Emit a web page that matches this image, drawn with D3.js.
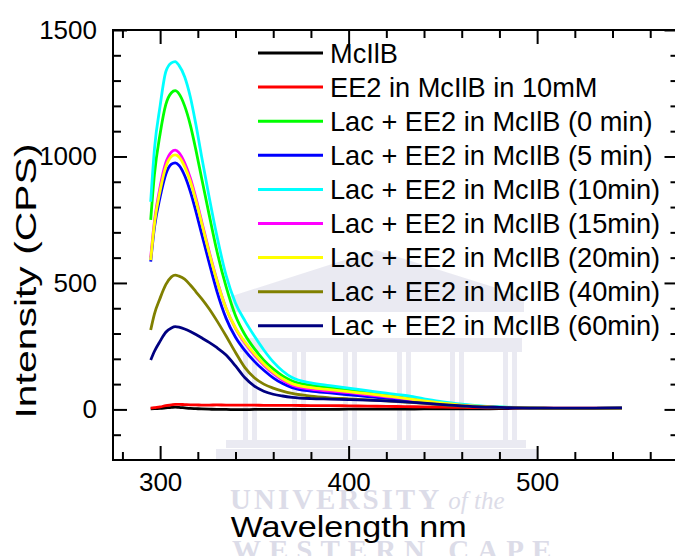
<!DOCTYPE html>
<html>
<head>
<meta charset="utf-8">
<script src="https://cdn.jsdelivr.net/npm/d3@7"></script>
<style>
  body { margin: 0; background: #fff; }
  svg { display: block; font-family: "Liberation Sans", Arial, sans-serif; }
</style>
</head>
<body>
<svg id="chart" width="675" height="556"></svg>
<script>
// wavelength (nm) shared by every spectrum
const wavelength = [295, 297, 300, 303, 306, 308, 310, 313, 316, 319, 322, 326, 330, 335, 340, 345, 350, 355, 360, 365, 370, 380, 390, 400, 410, 420, 430, 440, 450, 460, 470, 480, 490, 500, 510, 520, 530, 545];

// intensity (CPS) for each sample
const mcilb  = [2, 3, 4, 6, 8, 9, 8, 6, 4, 3, 2, 1, 0, 0, -1, -1, 0, 0, 0, 0, 0, 0, 0, 1, 1, 1, 1, 2, 2, 2, 2, 3, 3, 3, 3, 3, 4, 4];
const ee2    = [5, 7, 10, 15, 18, 20, 20, 19, 18, 18, 17, 17, 18, 17, 17, 17, 17, 16, 16, 16, 16, 15, 15, 14, 13, 12, 11, 10, 9, 8, 7, 6, 6, 5, 5, 5, 5, 5];
const lac0   = [749, 930, 1090, 1205, 1252, 1260, 1248, 1200, 1125, 1025, 915, 770, 630, 485, 370, 295, 240, 195, 160, 132, 112, 95, 86, 76, 66, 56, 46, 35, 25, 17, 12, 9, 7, 5, 4, 4, 4, 5];
const lac5   = [584, 720, 840, 930, 970, 975, 965, 925, 862, 782, 695, 580, 470, 360, 285, 232, 190, 155, 125, 102, 86, 72, 65, 58, 51, 44, 36, 28, 20, 14, 10, 7, 6, 5, 4, 4, 4, 5];
const lac10  = [821, 1030, 1200, 1335, 1370, 1375, 1360, 1315, 1236, 1125, 1000, 840, 690, 530, 420, 350, 290, 235, 188, 152, 126, 105, 94, 84, 74, 64, 55, 42, 30, 21, 14, 10, 7, 5, 4, 4, 4, 5];
const lac15  = [600, 745, 880, 975, 1018, 1025, 1015, 975, 915, 835, 745, 625, 515, 400, 320, 262, 215, 175, 142, 115, 96, 80, 72, 66, 58, 50, 42, 32, 23, 16, 11, 8, 6, 5, 4, 4, 4, 5];
const lac20  = [590, 735, 865, 958, 1000, 1006, 998, 960, 902, 825, 738, 620, 512, 400, 322, 266, 220, 180, 147, 121, 102, 86, 78, 70, 62, 53, 44, 34, 25, 17, 12, 8, 6, 5, 4, 4, 4, 5];
const lac40  = [314, 378, 440, 493, 524, 531, 527, 515, 492, 465, 438, 398, 352, 290, 225, 165, 125, 100, 84, 72, 63, 52, 46, 42, 38, 34, 29, 24, 18, 13, 10, 8, 6, 5, 4, 4, 4, 5];
const lac60  = [195, 230, 270, 305, 322, 327, 325, 318, 308, 296, 283, 265, 245, 215, 172, 125, 92, 72, 60, 53, 48, 43, 41, 39, 37, 34, 30, 25, 19, 14, 10, 8, 6, 5, 5, 5, 5, 6];

const seriesNames = ["McIlB", "EE2 in McIlB in 10mM", "Lac + EE2 in McIlB (0 min)", "Lac + EE2 in McIlB (5 min)",
  "Lac + EE2 in McIlB (10min)", "Lac + EE2 in McIlB (15min)", "Lac + EE2 in McIlB (20min)",
  "Lac + EE2 in McIlB (40min)", "Lac + EE2 in McIlB (60min)"];
const seriesValues = [mcilb, ee2, lac0, lac5, lac10, lac15, lac20, lac40, lac60];
const seriesColors = ["#000000", "#ff0000", "#00ff00", "#0000ff", "#00ffff", "#ff00ff", "#ffff00", "#808000", "#000080"];

const xMajor = [300, 400, 500];
const yMajor = [0, 500, 1000, 1500];

const svg = d3.select("#chart");
const mLeft = 113, mTop = 30, mRight = 678.5, mBottom = 460;

const x = d3.scaleLinear().domain([275, 575]).range([mLeft, mRight]);
const y = d3.scaleLinear().domain([-200, 1500]).range([mBottom, mTop]);

// faint university watermark behind the plot
const wm = svg.append("g").attr("fill", "#e6e6f0").attr("opacity", 0.8);
wm.append("polygon").attr("points", "232,296 376,250 522,296");
wm.append("rect").attr("x", 230).attr("y", 296).attr("width", 294).attr("height", 16);
wm.append("rect").attr("x", 240).attr("y", 338).attr("width", 282).attr("height", 14);
[243, 292, 343, 397, 450, 503].forEach(cx => {
  wm.append("rect").attr("x", cx).attr("y", 352).attr("width", 5).attr("height", 88);
  wm.append("rect").attr("x", cx + 9).attr("y", 352).attr("width", 5).attr("height", 88);
});
wm.append("rect").attr("x", 226).attr("y", 440).attr("width", 300).attr("height", 8);
wm.append("rect").attr("x", 216).attr("y", 449).attr("width", 322).attr("height", 10);
svg.append("text").attr("x", 230).attr("y", 509)
  .attr("font-family", "'Liberation Serif', 'DejaVu Serif', serif").attr("font-weight", "bold")
  .attr("font-size", 29).attr("letter-spacing", 3).attr("fill", "#dcdce8")
  .text("UNIVERSITY").append("tspan").attr("font-style", "italic").attr("font-weight", "normal")
  .attr("font-size", 25).attr("letter-spacing", 0).text(" of the");
svg.append("text").attr("x", 232).attr("y", 560)
  .attr("font-family", "'Liberation Serif', 'DejaVu Serif', serif").attr("font-weight", "bold")
  .attr("font-size", 29).attr("letter-spacing", 8).attr("fill", "#dcdce8")
  .text("WESTERN CAPE");

// spectra
const line = d3.line()
  .x((d, i) => x(wavelength[i]))
  .y(d => y(d))
  .curve(d3.curveMonotoneX);

svg.append("g").selectAll("path")
  .data(seriesValues)
  .enter()
  .append("path")
  .attr("d", d => line(d))
  .attr("fill", "none")
  .attr("stroke", (d, i) => seriesColors[i])
  .attr("stroke-width", 2.8)
  .attr("stroke-linejoin", "round");

// axes: ticks point inward on all four sides
const xMinor = d3.range(280, 575, 20).filter(v => !xMajor.includes(v));
const yMinor = d3.range(-100, 1500, 100).filter(v => !yMajor.includes(v));

function tickGroup(axis, tx, ty) {
  const g = svg.append("g").attr("transform", `translate(${tx},${ty})`).call(axis);
  g.select(".domain").remove();
  g.selectAll("line").attr("stroke", "#000").attr("stroke-width", 2);
  g.selectAll("text").attr("font-size", 26).attr("fill", "#000")
    .attr("font-family", "'Liberation Sans', Arial, sans-serif");
  return g;
}

tickGroup(d3.axisBottom(x).tickValues(xMajor).tickSize(-14).tickPadding(13).tickFormat(d3.format("d")), 0, mBottom);
tickGroup(d3.axisBottom(x).tickValues(xMinor).tickSize(-8).tickFormat(""), 0, mBottom);
tickGroup(d3.axisTop(x).tickValues(xMajor).tickSize(-14).tickFormat(""), 0, mTop);
tickGroup(d3.axisTop(x).tickValues(xMinor).tickSize(-8).tickFormat(""), 0, mTop);
tickGroup(d3.axisLeft(y).tickValues(yMajor).tickSize(-14).tickPadding(16).tickFormat(d3.format("d")), mLeft, 0);
tickGroup(d3.axisLeft(y).tickValues(yMinor).tickSize(-8).tickFormat(""), mLeft, 0);
tickGroup(d3.axisRight(y).tickValues(yMajor).tickSize(-14).tickFormat(""), mRight, 0);
tickGroup(d3.axisRight(y).tickValues(yMinor).tickSize(-8).tickFormat(""), mRight, 0);

// frame
svg.append("rect")
  .attr("x", mLeft).attr("y", mTop)
  .attr("width", mRight - mLeft).attr("height", mBottom - mTop)
  .attr("fill", "none").attr("stroke", "#000").attr("stroke-width", 2);

// axis titles
svg.append("text")
  .attr("x", x(400))
  .attr("y", 537)
  .attr("text-anchor", "middle")
  .attr("font-size", 29)
  .attr("textLength", 236)
  .attr("lengthAdjust", "spacingAndGlyphs")
  .text("Wavelength nm");

svg.append("text")
  .attr("transform", "translate(36,281) rotate(-90)")
  .attr("text-anchor", "middle")
  .attr("font-size", 29)
  .attr("textLength", 275)
  .attr("lengthAdjust", "spacingAndGlyphs")
  .text("Intensity (CPS)");

// legend
const legend = svg.append("g").attr("transform", "translate(258,53)");
const rows = legend.selectAll("g")
  .data(seriesNames)
  .enter()
  .append("g")
  .attr("transform", (d, i) => `translate(0,${i * 34.1})`);
rows.append("line")
  .attr("x1", 0).attr("x2", 65)
  .attr("stroke", (d, i) => seriesColors[i])
  .attr("stroke-width", 3);
rows.append("text")
  .attr("x", 72).attr("y", 9.5)
  .attr("font-size", 27.2)
  .attr("fill", "#000")
  .text(d => d);
</script>
</body>
</html>
